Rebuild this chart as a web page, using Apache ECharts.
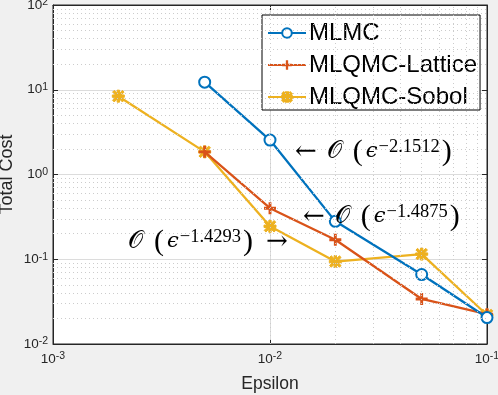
<!DOCTYPE html>
<html>
<head>
<meta charset="utf-8">
<script src="https://cdn.jsdelivr.net/npm/echarts@6/dist/echarts.min.js"></script>
<style>
  html, body { margin: 0; padding: 0; background: #f0f0f0; }
  #main { width: 498px; height: 395px; }
</style>
</head>
<body>
<div id="main"></div>
<script>
// data
var epsMLMC = [0.005, 0.01, 0.02, 0.05, 0.1];
var costMLMC = [12.3, 2.55, 0.28, 0.066, 0.0205];
var epsLattice = [0.005, 0.01, 0.02, 0.05, 0.1];
var costLattice = [1.85, 0.4, 0.17, 0.034, 0.0225];
var epsSobol = [0.002, 0.005, 0.01, 0.02, 0.05, 0.1];
var costSobol = [8.4, 1.85, 0.245, 0.094, 0.115, 0.022];

var names = ['MLMC', 'MLQMC-Lattice', 'MLQMC-Sobol'];
var rateLabels = ['−2.1512', '−1.4875', '−1.4293'];

var axisGray = '#262626';
var plusPath = 'path://M3.8,0 H6.2 V3.8 H10 V6.2 H6.2 V10 H3.8 V6.2 H0 V3.8 H3.8 Z';
var starPath = 'path://M4,0 H6 V4 H10 V6 H6 V10 H4 V6 H0 V4 H4 Z' +
  ' M1.6,0.2 L9.8,8.4 L8.4,9.8 L0.2,1.6 Z M8.4,0.2 L9.8,1.6 L1.6,9.8 L0.2,8.4 Z';

function pairs(xs, ys) {
  return xs.map(function (x, i) { return [x, ys[i]]; });
}

// minor grid positions (2..9 x 10^k)
var minorX = [], minorY = [];
for (var k = -3; k <= -2; k++) for (var m = 2; m <= 9; m++) minorX.push({ xAxis: m * Math.pow(10, k) });
for (var k2 = -2; k2 <= 1; k2++) for (var m2 = 2; m2 <= 9; m2++) minorY.push({ yAxis: m2 * Math.pow(10, k2) });

function powLabel(v) {
  var e = Math.round(Math.log10(v));
  return '{b|10}{s|' + e + '}';
}
var tickRich = {
  b: { fontSize: 13.5, color: axisGray, fontFamily: 'Liberation Sans', lineHeight: 16 },
  s: { fontSize: 10.5, color: axisGray, fontFamily: 'Liberation Sans', verticalAlign: 'top' }
};

var chart = echarts.init(document.getElementById('main'));

function rateText(arrowLeft, rate, arrowRight) {
  return (arrowLeft ? '{a|←}' : '') +
    '{o|𝒪}{pl|(}{e|ϵ}{s|' + rate + '}{pr|)}' +
    (arrowRight ? '{ar|→}' : '');
}
var serif = 'Liberation Serif';
var annRich = {
  a: { fontSize: 26, fontFamily: 'DejaVu Serif', color: '#000', padding: [0, 10, 0, 0] },
  ar: { fontSize: 26, fontFamily: 'DejaVu Serif', color: '#000', padding: [0, 0, 0, 13] },
  o: { fontSize: 24, fontFamily: serif, color: '#000' },
  pl: { fontSize: 30, fontFamily: serif, color: '#000', lineHeight: 30, padding: [0, 3, 0, 11] },
  pr: { fontSize: 30, fontFamily: serif, color: '#000', lineHeight: 30, padding: [0, 0, 0, 2] },
  e: { fontSize: 21, fontFamily: 'DejaVu Serif', fontStyle: 'italic', color: '#000' },
  s: { fontSize: 18.5, fontFamily: serif, color: '#000', verticalAlign: 'top', padding: [1, 0, 0, 1] }
};

var option = {
  backgroundColor: '#f0f0f0',
  animation: false,
  grid: {
    left: 53, right: 11, top: 5, bottom: 51,
    outerBoundsMode: 'none', containLabel: false,
    show: true, backgroundColor: '#fff', borderColor: axisGray, borderWidth: 1
  },
  legend: {
    data: names,
    orient: 'vertical',
    left: 262, top: 15,
    padding: [6, 3, 1, 5],
    itemGap: 8,
    itemWidth: 38, itemHeight: 12,
    backgroundColor: '#fff',
    borderColor: '#000', borderWidth: 1, borderRadius: 0,
    textStyle: { fontSize: 24, lineHeight: 24, fontFamily: 'Liberation Sans', color: '#000', padding: [0, 0, 0, -2] }
  },
  xAxis: [{
    type: 'log', logBase: 10, min: 0.001, max: 0.1,
    name: 'Epsilon', nameLocation: 'middle', nameGap: 31, nameMoveOverlap: false,
    nameTextStyle: { fontSize: 17.5, fontFamily: 'Liberation Sans', color: axisGray },
    axisLine: { lineStyle: { color: axisGray } },
    axisTick: { inside: true, length: 5, lineStyle: { color: axisGray } },
    axisLabel: { formatter: powLabel, rich: tickRich, margin: 7 },
    splitLine: { show: true, lineStyle: { color: '#dcdcdc', width: 1 } }
  }, {
    type: 'log', logBase: 10, min: 0.001, max: 0.1, position: 'top',
    axisLine: { lineStyle: { color: axisGray } },
    axisTick: { inside: true, length: 5, lineStyle: { color: axisGray } },
    axisLabel: { show: false }, splitLine: { show: false }
  }],
  yAxis: [{
    type: 'log', logBase: 10, min: 0.01, max: 100,
    name: 'Total Cost', nameLocation: 'middle', nameGap: 37, nameMoveOverlap: false,
    nameTextStyle: { fontSize: 18, fontFamily: 'Liberation Sans', color: axisGray },
    axisLine: { lineStyle: { color: axisGray } },
    axisTick: { inside: true, length: 5, lineStyle: { color: axisGray } },
    axisLabel: { formatter: powLabel, rich: tickRich, margin: 5 },
    splitLine: { show: true, lineStyle: { color: '#dcdcdc', width: 1 } }
  }, {
    type: 'log', logBase: 10, min: 0.01, max: 100, position: 'right',
    axisLine: { lineStyle: { color: axisGray } },
    axisTick: { inside: true, length: 5, lineStyle: { color: axisGray } },
    axisLabel: { show: false }, splitLine: { show: false }
  }],
  graphic: [
    { type: 'text', left: 295, top: 137, z: 50, style: { text: rateText(true, rateLabels[0], false), rich: annRich } },
    { type: 'text', left: 303, top: 202, z: 50, style: { text: rateText(true, rateLabels[1], false), rich: annRich } },
    { type: 'text', left: 128, top: 227, z: 50, style: { text: rateText(false, rateLabels[2], true), rich: annRich } }
  ],
  series: [
    {
      name: 'grid-minor', type: 'line', data: [], silent: true,
      markLine: {
        silent: true, symbol: 'none', label: { show: false },
        lineStyle: { color: '#cccccc', type: [1, 3], width: 1 },
        data: minorX.concat(minorY)
      }
    },
    {
      name: names[0], type: 'line', data: pairs(epsMLMC, costMLMC),
      color: '#0072BD', lineStyle: { width: 2.3 },
      symbol: 'emptyCircle', symbolSize: 11,
      itemStyle: { borderWidth: 2.3, color: '#0072BD' }, z: 4
    },
    {
      name: names[1], type: 'line', data: pairs(epsLattice, costLattice),
      color: '#D95319', lineStyle: { width: 2.3 },
      symbol: plusPath, symbolSize: 12,
      itemStyle: { color: '#D95319' }, z: 3
    },
    {
      name: names[2], type: 'line', data: pairs(epsSobol, costSobol),
      color: '#EDB120', lineStyle: { width: 2.3 },
      symbol: starPath, symbolSize: 12,
      itemStyle: { color: '#EDB120', borderColor: '#EDB120', borderWidth: 1 }, z: 2
    }
  ]
};
chart.setOption(option);
</script>
</body>
</html>
